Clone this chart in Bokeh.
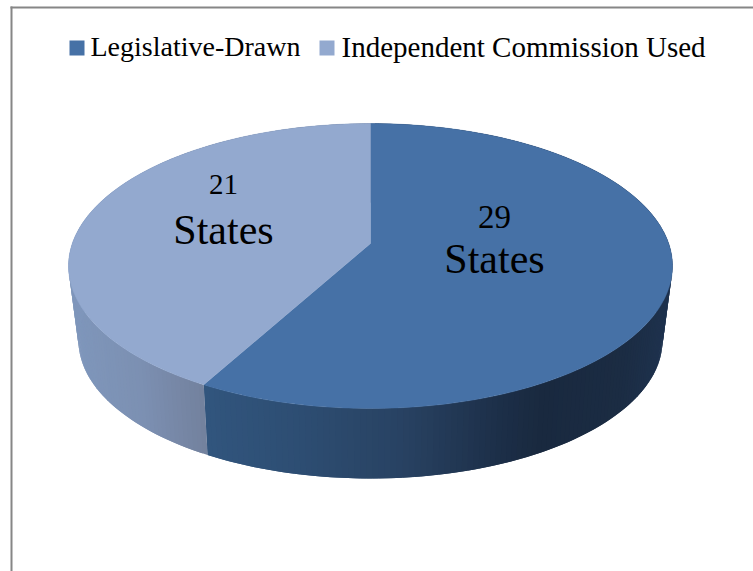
from math import pi, sin, cos
from bokeh.plotting import figure
from bokeh.models import Range1d
from bokeh.core.properties import value
from bokeh.embed import file_html
from bokeh.resources import INLINE

categories = ["Legislative-Drawn", "Independent Commission Used"]
states = [29, 21]
slice_labels = ["29", "21"]
unit_label = "States"
top_colors = ["#4671A6", "#93A9CF"]
side_stops = [
    [(207, "#31557D"), (300, "#2D4D72"), (400, "#284262"), (500, "#1C2E47"),
     (540, "#19293F"), (620, "#1B2C43"), (672, "#1F3350")],
    [(68, "#7F97BC"), (140, "#7C90B2"), (207, "#72809C")],
]

W, H = 753, 571
p = figure(width=W, height=H, output_backend="svg", toolbar_location=None,
           x_range=Range1d(0, W), y_range=Range1d(H, 0),
           min_border=0, outline_line_color=None, background_fill_color="white")
p.axis.visible = False
p.grid.visible = False

# frame
p.segment(x0=[11, 10], y0=[6, 7], x1=[11, 753], y1=[571, 7], line_color="#868686", line_width=2)

# projected pie geometry (screen-like coordinates)
CX, CY, A, B = 370.0, 243.0, 298.2, 138.9
K_TOP, K_BOTTOM = 0.158, 0.17
SCALE, CY_BOTTOM = 0.965, 316.5


def rim(theta, bottom=False):
    k = K_BOTTOM if bottom else K_TOP
    d = 1 + k * cos(theta)
    dx, dy = A * sin(theta) / d, -B * cos(theta) / d
    if bottom:
        return CX + SCALE * dx, CY_BOTTOM + SCALE * dy
    return CX + dx, CY + dy


def hex_rgb(c):
    return tuple(int(c[i:i + 2], 16) for i in (1, 3, 5))


def ramp(stops, x):
    if x <= stops[0][0]:
        return stops[0][1]
    for (x0, c0), (x1, c1) in zip(stops, stops[1:]):
        if x <= x1:
            f = (x - x0) / (x1 - x0)
            a, b = hex_rgb(c0), hex_rgb(c1)
            return "#%02x%02x%02x" % tuple(round(a[i] + f * (b[i] - a[i])) for i in range(3))
    return stops[-1][1]


total = sum(states)
start = 0.0
spans = []
for n in states:
    end = start + 2 * pi * n / total
    spans.append((start, end))
    start = end

# side wall: each quad overlaps the next so no seams appear
sx, sy, sc = [], [], []
for (t0, t1), stops in zip(spans, side_stops):
    n = max(2, int((t1 - t0) / (2 * pi) * 360))
    for i in range(n):
        a0 = t0 + (t1 - t0) * i / n
        a1 = t0 + (t1 - t0) * min(i + 2, n) / n
        am = t0 + (t1 - t0) * (i + 1) / n
        x0, y0 = rim(a0)
        x1, y1 = rim(a1)
        x2, y2 = rim(a1, True)
        x3, y3 = rim(a0, True)
        xm, _ = rim(am)
        xb, _ = rim(am, True)
        sx.append([x0, x1, x2, x3])
        sy.append([y0, y1, y2, y3])
        sc.append(ramp(stops, (xm + xb) / 2))
p.patches(sx, sy, fill_color=sc, line_color=None)

# top face
for (t0, t1), col in zip(spans, top_colors):
    n = 240
    pts = [rim(t0 + (t1 - t0) * i / n) for i in range(n + 1)]
    xs = [CX] + [q[0] for q in pts]
    ys = [CY] + [q[1] for q in pts]
    p.patch(xs, ys, fill_color=col, line_color=col, line_width=0.4)

serif = value("Liberation Serif")


def label(x, y, s, size, align="left"):
    p.text([x], [y - 0.31 * size], text=[s], text_font=serif, text_font_size=f"{size}px",
           text_color="#000000", text_align=align, text_baseline="alphabetic")


# data labels
label(223, 193, slice_labels[1], 29, "center")
label(223, 243, unit_label, 42, "center")
label(494, 227, slice_labels[0], 33, "center")
label(494, 272, unit_label, 42, "center")

# legend
p.rect([76.5, 326.5], [47.5, 47.5], width=15, height=15, fill_color=top_colors, line_color=None)
label(90, 55, categories[0], 28)
label(341, 55, categories[1], 29)

open("out.html", "w").write(file_html(p, INLINE))
